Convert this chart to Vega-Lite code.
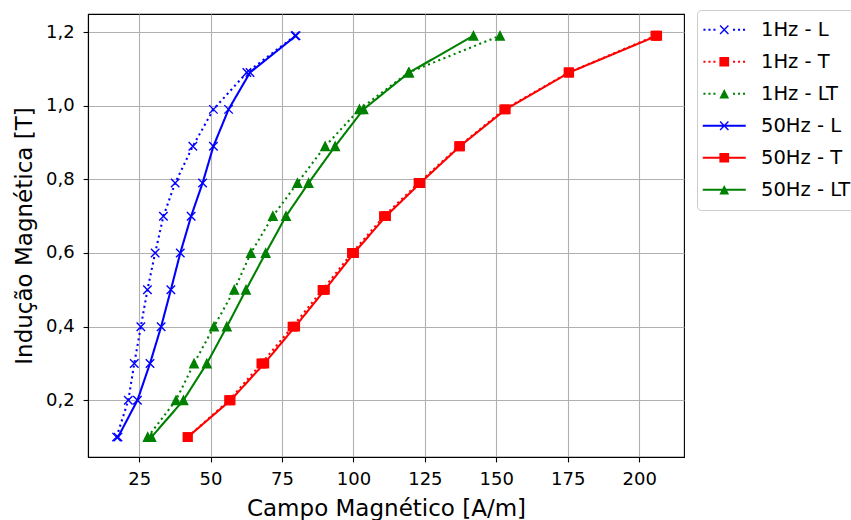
{
  "$schema": "https://vega.github.io/schema/vega-lite/v6.json",
  "autosize": {"type": "none"},
  "padding": {"left": 88, "top": 14, "right": 167, "bottom": 63},
  "width": 596,
  "height": 443,
  "background": "white",
  "data": {"values": [
    {"H": 17.1, "B": 0.1, "series": "1Hz - L", "freq": "1Hz", "sample": "L"},
    {"H": 21.2, "B": 0.2, "series": "1Hz - L", "freq": "1Hz", "sample": "L"},
    {"H": 23.3, "B": 0.3, "series": "1Hz - L", "freq": "1Hz", "sample": "L"},
    {"H": 25.6, "B": 0.4, "series": "1Hz - L", "freq": "1Hz", "sample": "L"},
    {"H": 27.9, "B": 0.5, "series": "1Hz - L", "freq": "1Hz", "sample": "L"},
    {"H": 30.6, "B": 0.6, "series": "1Hz - L", "freq": "1Hz", "sample": "L"},
    {"H": 33.5, "B": 0.7, "series": "1Hz - L", "freq": "1Hz", "sample": "L"},
    {"H": 37.6, "B": 0.79, "series": "1Hz - L", "freq": "1Hz", "sample": "L"},
    {"H": 43.8, "B": 0.89, "series": "1Hz - L", "freq": "1Hz", "sample": "L"},
    {"H": 51.0, "B": 0.99, "series": "1Hz - L", "freq": "1Hz", "sample": "L"},
    {"H": 62.7, "B": 1.09, "series": "1Hz - L", "freq": "1Hz", "sample": "L"},
    {"H": 79.6, "B": 1.19, "series": "1Hz - L", "freq": "1Hz", "sample": "L"},
    {"H": 42.0, "B": 0.1, "series": "1Hz - T", "freq": "1Hz", "sample": "T"},
    {"H": 56.5, "B": 0.2, "series": "1Hz - T", "freq": "1Hz", "sample": "T"},
    {"H": 67.8, "B": 0.3, "series": "1Hz - T", "freq": "1Hz", "sample": "T"},
    {"H": 78.7, "B": 0.4, "series": "1Hz - T", "freq": "1Hz", "sample": "T"},
    {"H": 89.2, "B": 0.5, "series": "1Hz - T", "freq": "1Hz", "sample": "T"},
    {"H": 99.5, "B": 0.6, "series": "1Hz - T", "freq": "1Hz", "sample": "T"},
    {"H": 110.7, "B": 0.7, "series": "1Hz - T", "freq": "1Hz", "sample": "T"},
    {"H": 122.8, "B": 0.79, "series": "1Hz - T", "freq": "1Hz", "sample": "T"},
    {"H": 137.0, "B": 0.89, "series": "1Hz - T", "freq": "1Hz", "sample": "T"},
    {"H": 152.8, "B": 0.99, "series": "1Hz - T", "freq": "1Hz", "sample": "T"},
    {"H": 175.3, "B": 1.09, "series": "1Hz - T", "freq": "1Hz", "sample": "T"},
    {"H": 205.7, "B": 1.19, "series": "1Hz - T", "freq": "1Hz", "sample": "T"},
    {"H": 28.0, "B": 0.1, "series": "1Hz - LT", "freq": "1Hz", "sample": "LT"},
    {"H": 37.9, "B": 0.2, "series": "1Hz - LT", "freq": "1Hz", "sample": "LT"},
    {"H": 44.2, "B": 0.3, "series": "1Hz - LT", "freq": "1Hz", "sample": "LT"},
    {"H": 51.2, "B": 0.4, "series": "1Hz - LT", "freq": "1Hz", "sample": "LT"},
    {"H": 58.3, "B": 0.5, "series": "1Hz - LT", "freq": "1Hz", "sample": "LT"},
    {"H": 64.1, "B": 0.6, "series": "1Hz - LT", "freq": "1Hz", "sample": "LT"},
    {"H": 71.8, "B": 0.7, "series": "1Hz - LT", "freq": "1Hz", "sample": "LT"},
    {"H": 80.4, "B": 0.79, "series": "1Hz - LT", "freq": "1Hz", "sample": "LT"},
    {"H": 90.1, "B": 0.89, "series": "1Hz - LT", "freq": "1Hz", "sample": "LT"},
    {"H": 102.1, "B": 0.99, "series": "1Hz - LT", "freq": "1Hz", "sample": "LT"},
    {"H": 119.3, "B": 1.09, "series": "1Hz - LT", "freq": "1Hz", "sample": "LT"},
    {"H": 151.3, "B": 1.19, "series": "1Hz - LT", "freq": "1Hz", "sample": "LT"},
    {"H": 17.6, "B": 0.1, "series": "50Hz - L", "freq": "50Hz", "sample": "L"},
    {"H": 24.4, "B": 0.2, "series": "50Hz - L", "freq": "50Hz", "sample": "L"},
    {"H": 28.8, "B": 0.3, "series": "50Hz - L", "freq": "50Hz", "sample": "L"},
    {"H": 32.7, "B": 0.4, "series": "50Hz - L", "freq": "50Hz", "sample": "L"},
    {"H": 36.1, "B": 0.5, "series": "50Hz - L", "freq": "50Hz", "sample": "L"},
    {"H": 39.4, "B": 0.6, "series": "50Hz - L", "freq": "50Hz", "sample": "L"},
    {"H": 43.2, "B": 0.7, "series": "50Hz - L", "freq": "50Hz", "sample": "L"},
    {"H": 47.2, "B": 0.79, "series": "50Hz - L", "freq": "50Hz", "sample": "L"},
    {"H": 51.0, "B": 0.89, "series": "50Hz - L", "freq": "50Hz", "sample": "L"},
    {"H": 56.3, "B": 0.99, "series": "50Hz - L", "freq": "50Hz", "sample": "L"},
    {"H": 63.8, "B": 1.09, "series": "50Hz - L", "freq": "50Hz", "sample": "L"},
    {"H": 79.9, "B": 1.19, "series": "50Hz - L", "freq": "50Hz", "sample": "L"},
    {"H": 42.0, "B": 0.1, "series": "50Hz - T", "freq": "50Hz", "sample": "T"},
    {"H": 57.0, "B": 0.2, "series": "50Hz - T", "freq": "50Hz", "sample": "T"},
    {"H": 68.8, "B": 0.3, "series": "50Hz - T", "freq": "50Hz", "sample": "T"},
    {"H": 79.6, "B": 0.4, "series": "50Hz - T", "freq": "50Hz", "sample": "T"},
    {"H": 90.0, "B": 0.5, "series": "50Hz - T", "freq": "50Hz", "sample": "T"},
    {"H": 100.2, "B": 0.6, "series": "50Hz - T", "freq": "50Hz", "sample": "T"},
    {"H": 111.4, "B": 0.7, "series": "50Hz - T", "freq": "50Hz", "sample": "T"},
    {"H": 123.4, "B": 0.79, "series": "50Hz - T", "freq": "50Hz", "sample": "T"},
    {"H": 137.3, "B": 0.89, "series": "50Hz - T", "freq": "50Hz", "sample": "T"},
    {"H": 153.3, "B": 0.99, "series": "50Hz - T", "freq": "50Hz", "sample": "T"},
    {"H": 175.5, "B": 1.09, "series": "50Hz - T", "freq": "50Hz", "sample": "T"},
    {"H": 206.3, "B": 1.19, "series": "50Hz - T", "freq": "50Hz", "sample": "T"},
    {"H": 29.3, "B": 0.1, "series": "50Hz - LT", "freq": "50Hz", "sample": "LT"},
    {"H": 40.5, "B": 0.2, "series": "50Hz - LT", "freq": "50Hz", "sample": "LT"},
    {"H": 48.7, "B": 0.3, "series": "50Hz - LT", "freq": "50Hz", "sample": "LT"},
    {"H": 55.7, "B": 0.4, "series": "50Hz - LT", "freq": "50Hz", "sample": "LT"},
    {"H": 62.4, "B": 0.5, "series": "50Hz - LT", "freq": "50Hz", "sample": "LT"},
    {"H": 69.3, "B": 0.6, "series": "50Hz - LT", "freq": "50Hz", "sample": "LT"},
    {"H": 76.4, "B": 0.7, "series": "50Hz - LT", "freq": "50Hz", "sample": "LT"},
    {"H": 84.3, "B": 0.79, "series": "50Hz - LT", "freq": "50Hz", "sample": "LT"},
    {"H": 93.6, "B": 0.89, "series": "50Hz - LT", "freq": "50Hz", "sample": "LT"},
    {"H": 103.5, "B": 0.99, "series": "50Hz - LT", "freq": "50Hz", "sample": "LT"},
    {"H": 119.5, "B": 1.09, "series": "50Hz - LT", "freq": "50Hz", "sample": "LT"},
    {"H": 142.0, "B": 1.19, "series": "50Hz - LT", "freq": "50Hz", "sample": "LT"}
  ]},
  "encoding": {
    "x": {
      "field": "H", "type": "quantitative",
      "scale": {"domain": [7.1, 215.7], "nice": false, "zero": false},
      "axis": {"values": [25, 50, 75, 100, 125, 150, 175, 200], "title": "Campo Magnético [A/m]", "labelPadding": 8.5, "titlePadding": 9}
    },
    "y": {
      "field": "B", "type": "quantitative",
      "scale": {"domain": [0.046, 1.249], "nice": false, "zero": false},
      "axis": {"values": [0.2, 0.4, 0.6, 0.8, 1.0, 1.2], "labelExpr": "replace(format(datum.value, '.1f'), '.', ',')", "title": "Indução Magnética [T]", "labelPadding": 9, "titlePadding": 9}
    }
  },
  "layer": [
    {
      "mark": {"type": "line", "strokeWidth": 2.08},
      "encoding": {
        "order": {"field": "B", "type": "quantitative"},
        "color": {
          "field": "series", "type": "nominal",
          "scale": {"domain": ["1Hz - L", "1Hz - T", "1Hz - LT", "50Hz - L", "50Hz - T", "50Hz - LT"], "range": ["#0000ff", "#ff0000", "#008000", "#0000ff", "#ff0000", "#008000"]},
          "legend": {
            "title": null,
            "orient": "none",
            "legendX": 609,
            "legendY": -4,
            "padding": 10,
            "fillColor": "white",
            "strokeColor": "#cccccc",
            "cornerRadius": 4,
            "symbolSize": 296,
            "symbolStrokeWidth": 0,
            "symbolOffset": 7.5,
            "labelOffset": 27,
            "labelFont": "DejaVu Sans",
            "labelFontSize": 19.5,
            "labelColor": "black",
            "labelLimit": 300,
            "rowPadding": 11,
            "encode": {
              "symbols": {
                "update": {
                  "shape": {"signal": "datum.value === '1Hz - L' ? 'M-2.42,-0.12H-2.18V0.12H-2.42Z M-1.84,-0.12H-1.6V0.12H-1.84Z M-1.26,-0.12H-1.02V0.12H-1.26Z M1.02,-0.12H1.26V0.12H1.02Z M1.6,-0.12H1.84V0.12H1.6Z M2.18,-0.12H2.42V0.12H2.18Z M-0.428,-0.542L0.542,0.428L0.428,0.542L-0.542,-0.428Z M0.542,-0.428L-0.428,0.542L-0.542,0.428L0.428,-0.542Z' : datum.value === '1Hz - T' ? 'M-2.42,-0.12H-2.18V0.12H-2.42Z M-1.84,-0.12H-1.6V0.12H-1.84Z M-1.26,-0.12H-1.02V0.12H-1.26Z M1.02,-0.12H1.26V0.12H1.02Z M1.6,-0.12H1.84V0.12H1.6Z M2.18,-0.12H2.42V0.12H2.18Z M-0.565,-0.565H0.565V0.565H-0.565Z' : datum.value === '1Hz - LT' ? 'M-2.42,-0.12H-2.18V0.12H-2.42Z M-1.84,-0.12H-1.6V0.12H-1.84Z M-1.26,-0.12H-1.02V0.12H-1.26Z M1.02,-0.12H1.26V0.12H1.02Z M1.6,-0.12H1.84V0.12H1.6Z M2.18,-0.12H2.42V0.12H2.18Z M0,-0.565L0.565,0.565L-0.565,0.565Z' : datum.value === '50Hz - L' ? 'M-2.5,-0.12H2.5V0.12H-2.5Z M-0.428,-0.542L0.542,0.428L0.428,0.542L-0.542,-0.428Z M0.542,-0.428L-0.428,0.542L-0.542,0.428L0.428,-0.542Z' : datum.value === '50Hz - T' ? 'M-2.5,-0.12H2.5V0.12H-2.5Z M-0.565,-0.565H0.565V0.565H-0.565Z' : 'M-2.5,-0.12H2.5V0.12H-2.5Z M0,-0.565L0.565,0.565L-0.565,0.565Z'"},
                  "fill": {"scale": "color", "field": "value"},
                  "stroke": {"value": "transparent"},
                  "strokeWidth": {"value": 0},
                  "strokeDash": {"value": [1, 0]},
                  "opacity": {"value": 1}
                }
              }
            }
          }
        },
        "strokeDash": {
          "field": "freq", "type": "nominal",
          "scale": {"domain": ["1Hz", "50Hz"], "range": [[2.08, 3.44], [1, 0]]},
          "legend": null
        }
      }
    },
    {
      "mark": {"type": "point", "filled": true, "opacity": 1, "size": 72, "strokeWidth": 1.39},
      "encoding": {
        "detail": {"field": "series", "type": "nominal"},
        "shape": {
          "field": "sample", "type": "nominal",
          "scale": {"domain": ["L", "T", "LT"], "range": ["M-1,-1L1,1M-1,1L1,-1", "M-1,-1H1V1H-1Z", "M0,-1L1,1L-1,1Z"]},
          "legend": null
        },
        "fill": {
          "field": "sample", "type": "nominal",
          "scale": {"domain": ["L", "T", "LT"], "range": ["#0000ff", "#ff0000", "#008000"]},
          "legend": null
        },
        "stroke": {
          "field": "sample", "type": "nominal",
          "scale": {"domain": ["L", "T", "LT"], "range": ["#0000ff", "#ff0000", "#008000"]},
          "legend": null
        }
      }
    }
  ],
  "config": {
    "view": {"stroke": "black", "strokeWidth": 1.1},
    "font": "DejaVu Sans",
    "axis": {
      "domainColor": "black",
      "domainWidth": 1.1,
      "tickColor": "black",
      "tickWidth": 1.1,
      "tickSize": 4.9,
      "grid": true,
      "gridColor": "#b0b0b0",
      "gridWidth": 1.1,
      "labelFont": "DejaVu Sans",
      "labelFontSize": 18,
      "labelColor": "black",
      "titleFont": "DejaVu Sans",
      "titleFontSize": 23,
      "titleFontWeight": "normal",
      "titleColor": "black"
    }
  }
}
